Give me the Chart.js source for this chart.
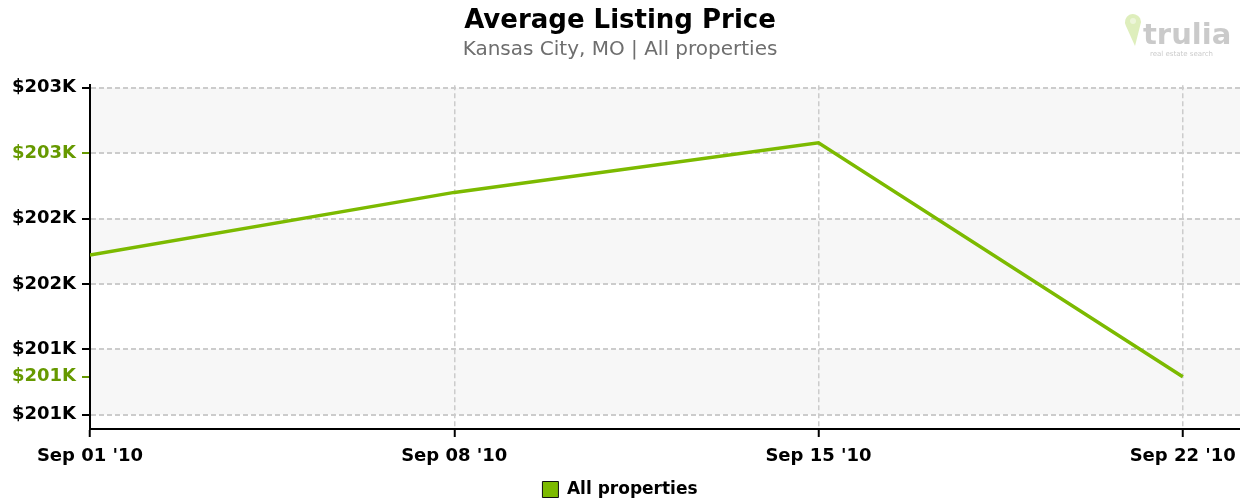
<!DOCTYPE html>
<html>
<head>
<meta charset="utf-8">
<title>Average Listing Price</title>
<script src="https://cdn.jsdelivr.net/npm/chart.js@4"></script>
<style>
  body { margin: 0; background: #fff; }
  canvas { display: block; }
</style>
</head>
<body>
<canvas id="myChart" width="1240" height="500"></canvas>
<script>
// data (prices in $K)
const dateLabels = ["Sep 01 '10", "Sep 08 '10", "Sep 15 '10", "Sep 22 '10"];
const dayOffsets = [0, 7, 14, 21];
const avgPriceK = [201.72, 202.2, 202.58, 200.79];

// axis ticks
const yTickValues = [200.5, 201, 201.5, 202, 202.5, 203];
const extremeTicks = [200.79, 202.5];   // min / max markers, drawn in green
const shadedBands = [[200.5, 201], [201.5, 202], [202.5, 203]];

const lineGreen = '#7cba00';
const labelGreen = '#669900';
const gridGray = '#cccccc';

Chart.defaults.font.family = "'DejaVu Sans', sans-serif";

function isExtreme(v) {
    return extremeTicks.some(e => Math.abs(e - v) < 1e-6);
}

// alternating grey bands behind the grid
const bandPlugin = {
    id: 'bands',
    beforeDraw(chart) {
        const {ctx, chartArea, scales} = chart;
        ctx.save();
        ctx.fillStyle = '#f7f7f7';
        shadedBands.forEach(b => {
            const top = scales.y.getPixelForValue(b[1]);
            const bottom = scales.y.getPixelForValue(b[0]);
            ctx.fillRect(chartArea.left, top, chartArea.right - chartArea.left, bottom - top);
        });
        ctx.restore();
    }
};

// faded trulia logo top right
const logoPlugin = {
    id: 'logo',
    afterDraw(chart) {
        const ctx = chart.ctx;
        ctx.save();
        ctx.globalAlpha = 0.45;
        ctx.fillStyle = '#b5d96a';
        ctx.beginPath();
        ctx.arc(1133, 22, 8, Math.PI * 0.85, Math.PI * 2.15);
        ctx.lineTo(1135, 46);
        ctx.closePath();
        ctx.fill();
        ctx.fillStyle = '#fff';
        ctx.beginPath();
        ctx.arc(1133, 21, 3, 0, Math.PI * 2);
        ctx.fill();
        ctx.fillStyle = '#8a8a8a';
        ctx.font = "bold 29px 'DejaVu Sans'";
        ctx.textBaseline = 'alphabetic';
        ctx.fillText('trulia', 1143, 44);
        ctx.font = "7px 'DejaVu Sans'";
        ctx.fillText('real estate search', 1150, 56);
        ctx.restore();
    }
};

const ctx = document.getElementById('myChart').getContext('2d');

const myChart = new Chart(ctx, {
    type: 'line',
    data: {
        datasets: [{
            label: 'All properties',
            data: dayOffsets.map((d, i) => ({x: d, y: avgPriceK[i]})),
            borderColor: lineGreen,
            backgroundColor: lineGreen,
            borderWidth: 3.5,
            pointRadius: 0,
            tension: 0,
            fill: false
        }]
    },
    options: {
        responsive: false,
        animation: false,
        devicePixelRatio: 1,
        layout: { padding: { top: 0, left: 0, right: 0, bottom: -8 } },
        plugins: {
            title: {
                display: true,
                text: 'Average Listing Price',
                color: '#000',
                font: { size: 26, weight: 'bold' },
                padding: { top: 6, bottom: 0 }
            },
            subtitle: {
                display: true,
                text: 'Kansas City, MO | All properties',
                color: '#6e6e6e',
                font: { size: 20, weight: 'normal' },
                padding: { top: 1, bottom: 23 }
            },
            legend: {
                position: 'bottom',
                labels: {
                    boxWidth: 16,
                    boxHeight: 16,
                    color: '#000',
                    font: { size: 17, weight: 'bold' },
                    padding: 1,
                    generateLabels: chart => chart.data.datasets.map((ds, i) => ({
                        text: ds.label,
                        fillStyle: lineGreen,
                        strokeStyle: '#111',
                        lineWidth: 1,
                        datasetIndex: i
                    }))
                }
            },
            tooltip: { enabled: false }
        },
        scales: {
            x: {
                type: 'linear',
                min: 0,
                max: 22.1,
                afterBuildTicks: scale => {
                    scale.ticks = dayOffsets.map(v => ({value: v}));
                },
                afterFit: scale => {
                    scale.height = 51;
                    scale.paddingLeft = 0;
                    scale.paddingRight = 0;
                },
                ticks: {
                    color: '#000',
                    font: { size: 18, weight: 'bold' },
                    padding: 9,
                    maxRotation: 0,
                    autoSkip: false,
                    callback: (value) => dateLabels[dayOffsets.indexOf(value)]
                },
                grid: {
                    color: gridGray,
                    lineWidth: 1.5,
                    tickColor: '#000',
                    tickLength: 8,
                    tickWidth: 2,
                    tickBorderDash: []
                },
                border: { color: '#000', width: 2, dash: [5, 3] }
            },
            y: {
                type: 'linear',
                min: 200.39,
                max: 203.02,
                afterBuildTicks: scale => {
                    const vals = yTickValues.concat(extremeTicks.filter(e => !yTickValues.includes(e)));
                    vals.sort((a, b) => a - b);
                    scale.ticks = vals.map(v => ({value: v}));
                },
                afterFit: scale => { scale.width = 90; },
                ticks: {
                    font: { size: 18, weight: 'bold' },
                    padding: 6,
                    color: c => isExtreme(c.tick.value) ? labelGreen : '#000',
                    callback: value => '$' + Math.round(value) + 'K'
                },
                grid: {
                    color: c => (c.tick && isExtreme(c.tick.value) && !yTickValues.includes(c.tick.value)) ? 'rgba(0,0,0,0)' : gridGray,
                    lineWidth: 2,
                    tickColor: c => (c.tick && isExtreme(c.tick.value)) ? labelGreen : '#000',
                    tickLength: 8,
                    tickWidth: 2,
                    tickBorderDash: []
                },
                border: { color: '#000', width: 2, dash: [5, 3] }
            }
        }
    },
    plugins: [bandPlugin, logoPlugin]
});
</script>
</body>
</html>
